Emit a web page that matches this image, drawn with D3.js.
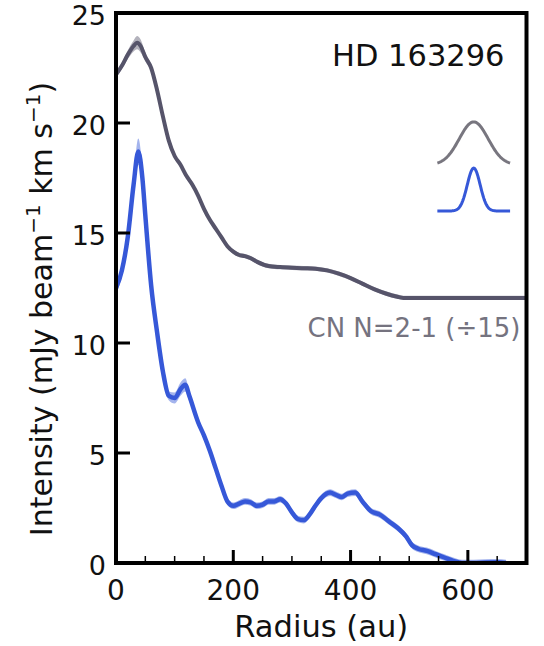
<!DOCTYPE html>
<html>
<head>
<meta charset="utf-8">
<script src="https://cdn.jsdelivr.net/npm/d3@7"></script>
<style>
  body { margin: 0; background: #fff; }
  text { font-family: "DejaVu Sans", sans-serif; }
</style>
</head>
<body>
<div id="chart"></div>
<script>
// Radial intensity profiles, HD 163296

// CN N=2-1 profile (divided by 15, shifted up)
let cnRadius = [0, 10, 20, 30, 36, 42, 50, 60, 70, 80, 90, 100, 110, 120, 130, 140, 150, 160, 170, 180,
    190, 200, 210, 220, 230, 240, 260, 280, 300, 320, 340, 360, 380, 400, 420, 440, 460, 480, 490, 500,
    550, 600, 650, 700];
let cnValue = [22.2, 22.6, 23.1, 23.5, 23.65, 23.5, 23.0, 22.5, 21.5, 20.3, 19.2, 18.5, 18.1, 17.6, 17.2,
    16.7, 16.1, 15.6, 15.2, 14.8, 14.4, 14.15, 14.0, 13.95, 13.85, 13.7, 13.5, 13.45, 13.42, 13.4, 13.38,
    13.3, 13.15, 12.95, 12.7, 12.45, 12.25, 12.1, 12.05, 12.05, 12.05, 12.05, 12.05, 12.05];
let cnError = [0.15, 0.15, 0.2, 0.25, 0.3, 0.3, 0.2, 0.15, 0.12, 0.1, 0.1, 0.1, 0.1, 0.1, 0.1, 0.1, 0.1,
    0.1, 0.1, 0.1, 0.1, 0.1, 0.1, 0.1, 0.1, 0.1, 0.1, 0.1, 0.1, 0.1, 0.1, 0.1, 0.1, 0.1, 0.1, 0.1, 0.1,
    0.1, 0.1, 0.1, 0.1, 0.1, 0.1, 0.1];

// second line profile (blue)
let lineRadius = [0, 10, 20, 30, 38, 45, 50, 60, 70, 80, 90, 100, 110, 118, 125, 140, 150, 160, 170, 180,
    190, 200, 210, 220, 230, 240, 250, 260, 270, 280, 290, 300, 310, 320, 330, 340, 350, 365, 375, 385,
    395, 408, 420, 435, 450, 465, 480, 495, 505, 515, 530, 545, 560, 575, 590, 610, 630, 650, 665];
let lineValue = [12.5, 13.3, 14.8, 17.2, 18.7, 17.5, 15.8, 12.6, 10.5, 8.7, 7.6, 7.5, 7.9, 8.1, 7.6, 6.4,
    5.8, 5.1, 4.3, 3.5, 2.8, 2.6, 2.7, 2.8, 2.75, 2.6, 2.65, 2.8, 2.8, 2.9, 2.7, 2.3, 2.0, 1.95, 2.2, 2.6,
    2.95, 3.2, 3.1, 3.0, 3.15, 3.2, 2.8, 2.35, 2.2, 1.9, 1.6, 1.2, 0.8, 0.65, 0.55, 0.4, 0.25, 0.1, 0.0,
    0.0, 0.02, 0.03, 0.0];
let lineError = [0.3, 0.25, 0.25, 0.4, 0.6, 0.5, 0.35, 0.25, 0.2, 0.2, 0.2, 0.25, 0.3, 0.3, 0.25, 0.2,
    0.15, 0.15, 0.15, 0.15, 0.15, 0.15, 0.15, 0.15, 0.15, 0.15, 0.15, 0.15, 0.15, 0.15, 0.15, 0.15, 0.15,
    0.15, 0.15, 0.15, 0.15, 0.15, 0.15, 0.15, 0.15, 0.15, 0.15, 0.15, 0.15, 0.15, 0.15, 0.15, 0.15, 0.15,
    0.15, 0.15, 0.15, 0.15, 0.15, 0.15, 0.15, 0.15, 0.15];

// beam markers: centre (au), FWHM (au), base level, height
let beamCentre = [610, 610];
let beamFwhm = [58, 26];
let beamBase = [18.1, 16.0];
let beamHeight = [1.95, 1.95];

let xTicks = [0, 200, 400, 600];
let xMinorTicks = [50, 100, 150, 250, 300, 350, 450, 500, 550, 650];
let yTicks = [0, 5, 10, 15, 20, 25];

let colors = ['#56546a', '#3658d8'];
let beamColors = ['#78767f', '#3658d8'];

let margin = {top: 13, right: 17.5, bottom: 83, left: 116}
  , width = 544 - margin.left - margin.right
  , height = 646 - margin.top - margin.bottom;

let xScale = d3.scaleLinear().domain([0, 700]).range([0, width]);
let yScale = d3.scaleLinear().domain([0, 25]).range([height, 0]);

let svg = d3.select('#chart').append('svg')
    .attr('width', 544)
    .attr('height', 646)
  .append('g')
    .attr('transform', 'translate(' + margin.left + ',' + margin.top + ')');

svg.append('clipPath').attr('id', 'clip')
  .append('rect').attr('width', width).attr('height', height);

let plot = svg.append('g').attr('clip-path', 'url(#clip)');

let drawProfile = function(radius, value, err, color, lw){
    let pts = radius.map(function(r, i){ return {r: r, v: value[i], e: err[i]}; });
    let area = d3.area()
        .x(function(d){ return xScale(d.r); })
        .y0(function(d){ return yScale(d.v - d.e); })
        .y1(function(d){ return yScale(d.v + d.e); })
        .curve(d3.curveMonotoneX);
    let line = d3.line()
        .x(function(d){ return xScale(d.r); })
        .y(function(d){ return yScale(d.v); })
        .curve(d3.curveMonotoneX);
    plot.append('path').datum(pts)
        .attr('d', area)
        .attr('fill', color)
        .attr('opacity', 0.45);
    plot.append('path').datum(pts)
        .attr('d', line)
        .attr('fill', 'none')
        .attr('stroke', color)
        .attr('stroke-width', lw)
        .attr('stroke-linejoin', 'round');
};

drawProfile(cnRadius, cnValue, cnError, colors[0], 4);
drawProfile(lineRadius, lineValue, lineError, colors[1], 4.5);

// beam gaussians
for(let b=0; b<beamCentre.length; b++){
    let sigma = beamFwhm[b] / 2.3548;
    let pts = d3.range(-62, 63, 1).map(function(dx){
        return [beamCentre[b] + dx, beamBase[b] + beamHeight[b] * Math.exp(-dx*dx / (2*sigma*sigma))];
    });
    svg.append('path').datum(pts)
        .attr('d', d3.line()
            .x(function(d){ return xScale(d[0]); })
            .y(function(d){ return yScale(d[1]); }))
        .attr('fill', 'none')
        .attr('stroke', beamColors[b])
        .attr('stroke-width', 3);
}

// ticks, pointing inward
let xAxis = svg.append('g').attr('transform', 'translate(0,' + height + ')');
xAxis.selectAll('.minor').data(xMinorTicks).enter().append('line')
    .attr('x1', function(d){ return xScale(d); }).attr('x2', function(d){ return xScale(d); })
    .attr('y1', 0).attr('y2', -7)
    .attr('stroke', '#000').attr('stroke-width', 1.5);
xAxis.selectAll('.major').data(xTicks).enter().append('line')
    .attr('x1', function(d){ return xScale(d); }).attr('x2', function(d){ return xScale(d); })
    .attr('y1', 0).attr('y2', -13)
    .attr('stroke', '#000').attr('stroke-width', 3);
xAxis.selectAll('.lbl').data(xTicks).enter().append('text')
    .attr('x', function(d){ return xScale(d); })
    .attr('y', 37)
    .attr('text-anchor', 'middle')
    .attr('font-size', 28)
    .attr('fill', '#111')
    .text(function(d){ return d; });

let yAxis = svg.append('g');
yAxis.selectAll('.major').data(yTicks).enter().append('line')
    .attr('x1', 0).attr('x2', 14)
    .attr('y1', function(d){ return yScale(d); }).attr('y2', function(d){ return yScale(d); })
    .attr('stroke', '#000').attr('stroke-width', 3);
yAxis.selectAll('.lbl').data(yTicks).enter().append('text')
    .attr('x', -10)
    .attr('y', function(d){ return yScale(d) + 12; })
    .attr('text-anchor', 'end')
    .attr('font-size', 27)
    .attr('fill', '#111')
    .text(function(d){ return d; });

// frame
svg.append('rect')
    .attr('width', width).attr('height', height)
    .attr('fill', 'none')
    .attr('stroke', '#000')
    .attr('stroke-width', 4);

// labels
svg.append('text')
    .attr('x', width / 2).attr('y', height + 74)
    .attr('text-anchor', 'middle')
    .attr('font-size', 30.5)
    .attr('fill', '#111')
    .text('Radius (au)');

let yLabel = svg.append('text')
    .attr('transform', 'translate(-64,' + (height / 2 + 21) + ') rotate(-90)')
    .attr('text-anchor', 'middle')
    .attr('font-size', 30)
    .attr('fill', '#111');
yLabel.append('tspan').text('Intensity (mJy beam');
yLabel.append('tspan').attr('dy', -12).attr('font-size', 20).text('\u22121');
yLabel.append('tspan').attr('dy', 12).text(' km s');
yLabel.append('tspan').attr('dy', -12).attr('font-size', 20).text('\u22121');
yLabel.append('tspan').attr('dy', 12).text(')');

svg.append('text')
    .attr('x', width - 22).attr('y', 53)
    .attr('text-anchor', 'end')
    .attr('font-size', 30.5)
    .attr('fill', '#111')
    .text('HD 163296');

svg.append('text')
    .attr('x', width - 6).attr('y', 324)
    .attr('text-anchor', 'end')
    .attr('font-size', 26)
    .attr('fill', '#75737f')
    .text('CN N=2-1 (\u00f715)');
</script>
</body>
</html>
